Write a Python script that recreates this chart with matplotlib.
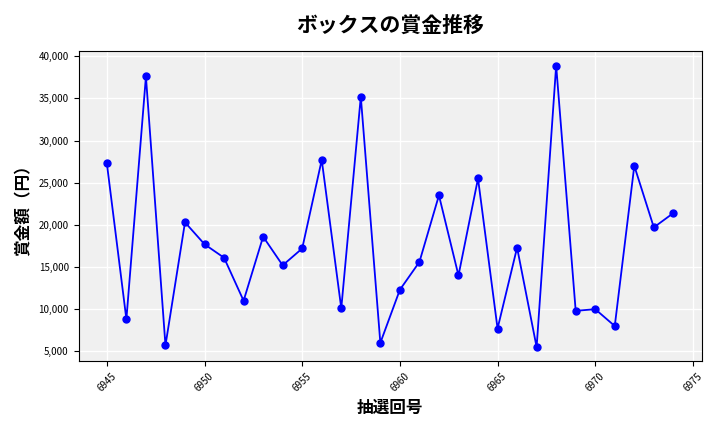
import matplotlib
matplotlib.use("Agg")
import matplotlib.pyplot as plt
from matplotlib.ticker import FuncFormatter

plt.rcParams['font.family'] = ['Noto Sans CJK JP', 'DejaVu Sans']

draws = list(range(6945, 6975))
prizes = [27300, 8800, 37600, 5700, 20300, 17700, 16100, 11000, 18600, 15200,
          17200, 27700, 10100, 35200, 6000, 12300, 15600, 23500, 14000, 25500,
          7700, 17300, 5500, 38900, 9800, 10000, 8000, 27000, 19700, 21400]

fig, ax = plt.subplots(figsize=(7.2, 4.32), dpi=100)
ax.set_facecolor('#f0f0f0')
ax.grid(True, color='white', linewidth=1)
ax.set_axisbelow(True)
ax.plot(draws, prizes, color='blue', marker='o', markersize=5, linewidth=1.3)
ax.set_title('ボックスの賞金推移', fontsize=15, fontweight='bold', pad=14)
ax.set_xlabel('抽選回号', fontsize=12, fontweight='bold')
ax.set_ylabel('賞金額（円）', fontsize=12, fontweight='bold')
ax.yaxis.set_major_formatter(FuncFormatter(lambda v, p: f'{int(v):,}'))
ax.tick_params(axis='x', labelrotation=45, labelsize=7)
ax.tick_params(axis='y', labelsize=7)
fig.tight_layout()
fig.savefig('out.png', dpi=100)
